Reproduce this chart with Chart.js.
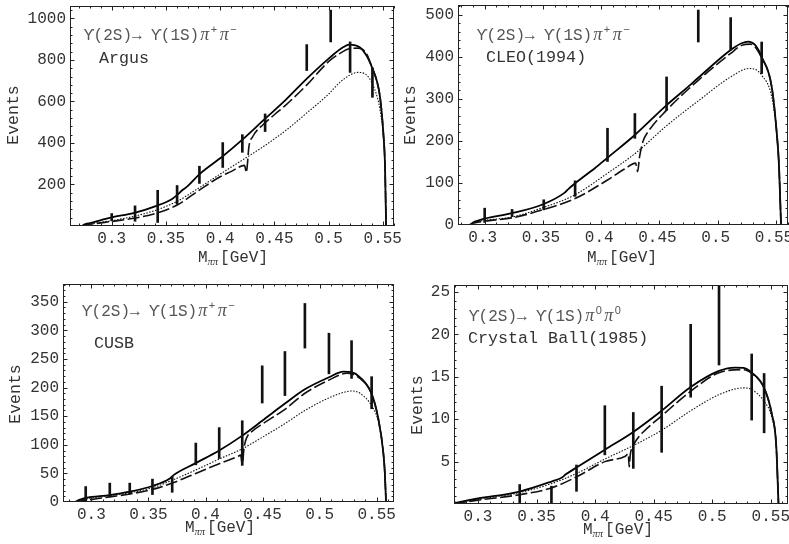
<!DOCTYPE html>
<html>
<head>
<meta charset="utf-8">
<script src="https://cdn.jsdelivr.net/npm/chart.js@4.4.0/dist/chart.umd.min.js"></script>
<style>
html,body{margin:0;padding:0;background:#fff;}
#wrap{position:relative;width:789px;height:544px;overflow:hidden;background:#fff;}
canvas{position:absolute;}
</style>
</head>
<body>
<div id="wrap">
<canvas id="c1" width="412" height="272" style="left:0;top:0"></canvas>
<canvas id="c2" width="394" height="272" style="left:395px;top:0"></canvas>
<canvas id="c3" width="412" height="272" style="left:0;top:272px"></canvas>
<canvas id="c4" width="394" height="272" style="left:395px;top:272px"></canvas>
</div>
<script>
// ---- shared tick labels ----
const xTicks = [0.3, 0.35, 0.4, 0.45, 0.5, 0.55];
const xTickLabels = ['0.3', '0.35', '0.4', '0.45', '0.5', '0.55'];

// ---- Argus ----
const argusYTicks = [200, 400, 600, 800, 1000];
const argusSolid = [[0.2723,0],[0.275,8],[0.28,14],[0.29,28],[0.30,42],[0.32,62],[0.34,95],[0.355,128],[0.36,148],[0.365,172],[0.37,192],[0.381,250],[0.4024,336],[0.4205,416],[0.4415,517],[0.46,605],[0.48,710],[0.502,815],[0.5137,862],[0.519,874],[0.5291,860],[0.5352,820],[0.5405,759],[0.5445,700],[0.5475,622],[0.5506,445],[0.5521,290],[0.5531,0]];
const argusDashed = [[0.2723,0],[0.276,4],[0.28,8],[0.29,15],[0.30,22],[0.32,37],[0.34,60],[0.36,100],[0.38,170],[0.40,237],[0.41,262],[0.4225,292],[0.4242,258],[0.4252,300],[0.4265,380],[0.43,430],[0.44,490],[0.45,536],[0.46,580],[0.48,680],[0.50,792],[0.51,830],[0.52,855],[0.528,857],[0.535,830],[0.5405,759],[0.5445,700],[0.5475,622],[0.5506,445],[0.5521,290],[0.5531,0]];
const argusDotted = [[0.2723,0],[0.28,10],[0.29,18],[0.30,26],[0.32,46],[0.34,75],[0.36,118],[0.38,182],[0.40,250],[0.42,316],[0.44,383],[0.46,458],[0.48,545],[0.50,635],[0.51,690],[0.52,728],[0.527,740],[0.535,728],[0.54,690],[0.545,620],[0.5475,560],[0.5506,430],[0.5521,285],[0.5531,0]];
const argusBarX = [0.3,0.3215,0.3424,0.3603,0.3809,0.4024,0.4205,0.4415,0.4799,0.502,0.5199,0.5405];
const argusLo = [25,23,17,105,205,282,355,455,749,887,740,620];
const argusHi = [60,97,172,195,288,402,440,540,874,1040,887,762];

// ---- CLEO (1994) ----
const cleoYTicks = [0, 100, 200, 300, 400, 500];
const cleoSolid = [[0.2871,0],[0.29,6],[0.295,11],[0.30,15],[0.3235,28],[0.3507,50],[0.3687,77],[0.372,86],[0.3776,99],[0.3945,135],[0.4054,160],[0.4289,214],[0.4561,285],[0.4747,329],[0.4833,350],[0.5111,416],[0.5205,432],[0.5262,436],[0.532,428],[0.5377,400],[0.5463,329],[0.5506,220],[0.5526,140],[0.5543,0]];
const cleoDashed = [[0.2871,0],[0.29,4],[0.30,9],[0.3235,17],[0.3507,37],[0.3776,63],[0.4054,107],[0.42,133],[0.4295,147],[0.4313,127],[0.4328,160],[0.436,200],[0.4403,222],[0.4561,273],[0.4833,344],[0.5111,408],[0.5205,427],[0.528,430],[0.5377,397],[0.5463,329],[0.5506,220],[0.5526,140],[0.5543,0]];
const cleoDotted = [[0.2871,0],[0.29,5],[0.30,11],[0.3235,19],[0.3507,42],[0.3776,72],[0.4054,123],[0.43,172],[0.4561,236],[0.4833,295],[0.5111,352],[0.527,372],[0.532,370],[0.5377,356],[0.5463,305],[0.5506,218],[0.5526,135],[0.5543,0]];
const cleoBarX = [0.3,0.3235,0.3507,0.3776,0.4054,0.4289,0.4561,0.4833,0.5111,0.5377];
const cleoLo = [6,20,36,68,151,206,273,435,416,360];
const cleoHi = [40,37,60,105,230,265,352,511,493,435];

// ---- CUSB ----
const cusbYTicks = [0, 50, 100, 150, 200, 250, 300, 350];
const cusbSolid = [[0.2854,0],[0.29,4],[0.295,7],[0.3161,12],[0.3336,18],[0.3535,28],[0.3687,41],[0.372,47],[0.3915,68],[0.412,90],[0.4322,116],[0.4497,142],[0.4696,172],[0.4871,197],[0.5082,218],[0.5208,228],[0.528,227],[0.5354,218],[0.5456,189],[0.5515,145],[0.5558,87],[0.5572,50],[0.5582,0]];
const cusbDashed = [[0.2854,0],[0.29,2],[0.295,3],[0.3161,9],[0.3336,14],[0.3535,22],[0.3708,33],[0.3915,50],[0.412,67],[0.4287,80],[0.4308,82],[0.4322,66],[0.4338,95],[0.436,112],[0.4418,125],[0.4497,136],[0.4696,162],[0.4871,190],[0.5082,213],[0.5237,225],[0.5354,216],[0.5456,189],[0.5515,145],[0.5558,87],[0.5572,50],[0.5582,0]];
const cusbDotted = [[0.2854,0],[0.29,3],[0.295,5],[0.3161,11],[0.3336,16],[0.3535,25],[0.3708,38],[0.3915,56],[0.412,75],[0.4322,93],[0.4497,113],[0.4696,137],[0.4871,160],[0.5082,182],[0.5237,193],[0.528,194],[0.5354,190],[0.5456,168],[0.5515,140],[0.5558,85],[0.5572,50],[0.5582,0]];
const cusbBarX = [0.295,0.3161,0.3336,0.3535,0.3708,0.3915,0.412,0.4322,0.4497,0.4696,0.4871,0.5082,0.528,0.5456];
const cusbLo = [1,10,14,13,17,65,76,64,173,186,269,224,216,163];
const cusbHi = [27,33,33,40,45,103,130,142,238,263,347,295,282,219];

// ---- Crystal Ball (1985) ----
const cbYTicks = [5, 10, 15, 20, 25];
const cbSolid = [[0.2795,0.1],[0.29,0.4],[0.30,0.65],[0.3356,1.47],[0.3627,2.65],[0.3713,3.1],[0.375,3.5],[0.3841,4.3],[0.4083,6.4],[0.4326,8.5],[0.4568,11.0],[0.4816,13.8],[0.5058,15.7],[0.5195,16.1],[0.5266,16.05],[0.5337,15.5],[0.5443,13.7],[0.5509,10.6],[0.5546,7.0],[0.5566,0]];
const cbDashed = [[0.2795,0.05],[0.30,0.45],[0.3356,1.1],[0.3627,1.9],[0.3841,3.2],[0.4083,5.0],[0.4254,5.6],[0.4283,5.9],[0.4291,4.4],[0.43,5.8],[0.4326,6.9],[0.436,7.7],[0.4411,8.5],[0.4568,10.4],[0.4816,13.3],[0.5058,15.5],[0.5266,15.85],[0.5337,15.4],[0.5443,13.7],[0.5509,10.6],[0.5546,7.0],[0.5566,0]];
const cbDotted = [[0.2795,0.05],[0.30,0.55],[0.3356,1.35],[0.3627,2.4],[0.3841,3.6],[0.4083,5.3],[0.4326,6.9],[0.4568,8.7],[0.4816,11.0],[0.5058,12.9],[0.5266,13.7],[0.5337,13.5],[0.5443,12.1],[0.5509,10.2],[0.5546,7.0],[0.5566,0]];
const cbBarX = [0.3356,0.3627,0.3841,0.4083,0.4326,0.4568,0.4816,0.5058,0.5337,0.5443];
const cbLo = [0.1,0,1.5,5.8,4.2,6.1,12.6,16.4,9.9,8.4];
const cbHi = [2.3,2.1,4.6,11.6,10.8,13.9,21.2,25.9,17.7,15.4];

// ---- drawing ----
const MONO = '"Liberation Mono","DejaVu Sans Mono",monospace';
const TXT = '#333';

function toXY(a){ return a.map(p => ({x:p[0], y:p[1]})); }

const decor = {
  id:'decor',
  afterDatasetsDraw(chart, args, o){
    const {ctx, chartArea:a, scales:{x, y}} = chart;
    ctx.save();
    ctx.strokeStyle = '#222'; ctx.lineWidth = 1;
    ctx.beginPath();
    const MJ = 4.5, MN = 2.5;
    const xv = (v, len) => { const p = Math.round(x.getPixelForValue(v)) + 0.5;
      ctx.moveTo(p, a.bottom); ctx.lineTo(p, a.bottom - len); ctx.moveTo(p, a.top); ctx.lineTo(p, a.top + len); };
    const yv = (v, len) => { const p = Math.round(y.getPixelForValue(v)) + 0.5;
      ctx.moveTo(a.left, p); ctx.lineTo(a.left + len, p); ctx.moveTo(a.right, p); ctx.lineTo(a.right - len, p); };
    const near = (v, arr, eps) => arr.some(t => Math.abs(t - v) < eps);
    for (let k = Math.ceil(x.min / 0.01); k * 0.01 <= x.max; k++) {
      const v = k * 0.01;
      near(v, xTicks, 1e-6) ? xv(v, MJ) : xv(v, MN);
    }
    for (let k = Math.ceil(y.min / o.yMinor); k * o.yMinor <= y.max; k++) {
      const v = k * o.yMinor;
      if (v <= 0) continue;
      near(v, o.yTicks, 1e-6) ? yv(v, MJ) : yv(v, MN);
    }
    ctx.stroke();
    ctx.strokeRect(Math.round(a.left) + 0.5, Math.round(a.top) + 0.5, Math.round(a.right - a.left) - 1, Math.round(a.bottom - a.top) - 1);

    // axis titles
    ctx.fillStyle = TXT;
    ctx.textBaseline = 'alphabetic';
    ctx.save();
    ctx.translate(o.yTitle[0], o.yTitle[1]);
    ctx.rotate(-Math.PI / 2);
    ctx.font = '16.5px ' + MONO;
    ctx.textAlign = 'center';
    ctx.fillText('Events', 0, 5);
    ctx.restore();

    ctx.textAlign = 'left';
    const f1 = '16px ' + MONO, f2 = 'italic 10.5px "Liberation Serif",serif';
    ctx.font = f1; const wM = ctx.measureText('M').width, wG = ctx.measureText('[GeV]').width;
    ctx.font = f2; const wP = ctx.measureText('ππ').width;
    let xs = o.xTitle[0] - (wM + wP + 2 + wG) / 2; const yb = o.xTitle[1] + 5;
    ctx.font = f1; ctx.fillText('M', xs, yb); xs += wM;
    ctx.font = f2; ctx.fillText('ππ', xs, yb + 3); xs += wP + 2;
    ctx.font = f1; ctx.fillText('[GeV]', xs, yb);

    // annotation
    let ax = o.note[0]; const ay = o.note[1];
    ctx.fillStyle = '#555';
    ctx.font = '16px ' + MONO;
    const t1 = 'ϒ(2S)→ ϒ(1S)';
    ctx.fillText(t1, ax, ay); ax += ctx.measureText(t1).width + 1;
    for (const s of o.sups) {
      ctx.font = 'italic 18px "Liberation Serif",serif';
      ctx.fillText('π', ax, ay); ax += ctx.measureText('π').width + 1.5;
      ctx.font = '11px "Liberation Sans",sans-serif';
      ctx.fillText(s, ax, ay - 7); ax += ctx.measureText(s).width + 2.5;
    }
    ctx.fillStyle = TXT;
    ctx.font = '16.7px ' + MONO;
    ctx.fillText(o.label, o.labelPos[0], o.labelPos[1]);
    ctx.restore();
  }
};

function panel(id, p){
  const el = document.getElementById(id);
  const W = el.width, H = el.height;
  const line = (d, w, dash, col) => ({type:'line', data:toXY(d), borderColor:col, borderWidth:w, borderDash:dash,
      pointRadius:0, fill:false, cubicInterpolationMode:'monotone', order:1});
  new Chart(el, {
    type:'line',
    data:{datasets:[
      {type:'bar', data:p.barX.map((v,i) => ({x:v, y:[p.lo[i], p.hi[i]]})), backgroundColor:'#111',
        barThickness:2, borderWidth:0, order:0},
      line(p.dotted, 1.1, [1.5, 1.5], '#111'),
      line(p.dashed, 1.6, [12, 3.5], '#111'),
      line(p.solid, 1.8, [], '#000')
    ]},
    options:{
      responsive:false, animation:false, devicePixelRatio:1,
      layout:{padding:{left:0, bottom:0, top:p.area[1], right:W - p.area[2]}},
      plugins:{legend:{display:false}, tooltip:{enabled:false},
        decor:{yMinor:p.yMinor, yTicks:p.yTicks, yTitle:p.yTitle, xTitle:p.xTitle, note:p.note, sups:p.sups, label:p.label, labelPos:p.labelPos}},
      scales:{
        x:{type:'linear', min:p.xMin, max:p.xMax, offset:false,
          afterBuildTicks:s => { s.ticks = xTicks.map(v => ({value:v})); },
          afterFit:s => { s.height = H - p.area[3]; s.paddingLeft = 0; s.paddingRight = 0; },
          grid:{display:false, drawTicks:false}, border:{display:false},
          ticks:{autoSkip:false, maxRotation:0, padding:3, labelOffset:p.xLabelShift || 0, color:TXT, font:{family:MONO, size:16},
            callback:v => xTickLabels[xTicks.findIndex(t => Math.abs(t - v) < 1e-9)]}},
        y:{type:'linear', min:0, max:p.yMax,
          afterBuildTicks:s => { s.ticks = p.yTicks.map(v => ({value:v})); },
          afterFit:s => { s.width = p.area[0]; s.paddingTop = 0; s.paddingBottom = 0; },
          grid:{display:false, drawTicks:false}, border:{display:false},
          ticks:{autoSkip:false, padding:4, color:TXT, font:{family:MONO, size:16}, callback:v => String(v)}}
      }
    },
    plugins:[decor]
  });
}

panel('c1', {area:[70, 6, 394, 226], xMin:0.2615, xMax:0.5604, yMax:1060, yTicks:argusYTicks, yMinor:40,
  solid:argusSolid, dashed:argusDashed, dotted:argusDotted, barX:argusBarX, lo:argusLo, hi:argusHi,
  yTitle:[13, 115], xTitle:[233, 257], note:[84, 40], sups:['+', '−'], label:'Argus', labelPos:[99, 63]});
panel('c2', {area:[63, 5, 393, 225], xMin:0.2771, xMax:0.5603, yMax:523, yTicks:cleoYTicks, yMinor:20, xLabelShift:-2,
  solid:cleoSolid, dashed:cleoDashed, dotted:cleoDotted, barX:cleoBarX, lo:cleoLo, hi:cleoHi,
  yTitle:[15, 115], xTitle:[227, 257], note:[82, 40], sups:['+', '−'], label:'CLEO(1994)', labelPos:[91, 62]});
panel('c3', {area:[63, 12, 394, 230], xMin:0.2751, xMax:0.5652, yMax:381, yTicks:cusbYTicks, yMinor:10,
  solid:cusbSolid, dashed:cusbDashed, dotted:cusbDotted, barX:cusbBarX, lo:cusbLo, hi:cusbHi,
  yTitle:[15, 122], xTitle:[220, 255], note:[82, 44], sups:['+', '−'], label:'CUSB', labelPos:[94, 76]});
panel('c4', {area:[59, 13, 393, 232], xMin:0.2795, xMax:0.5647, yMax:25.84, yTicks:cbYTicks, yMinor:1,
  solid:cbSolid, dashed:cbDashed, dotted:cbDotted, barX:cbBarX, lo:cbLo, hi:cbHi,
  yTitle:[22, 133], xTitle:[223, 257], note:[74, 49], sups:['0', '0'], label:'Crystal Ball(1985)', labelPos:[73, 71]});
</script>
</body>
</html>
